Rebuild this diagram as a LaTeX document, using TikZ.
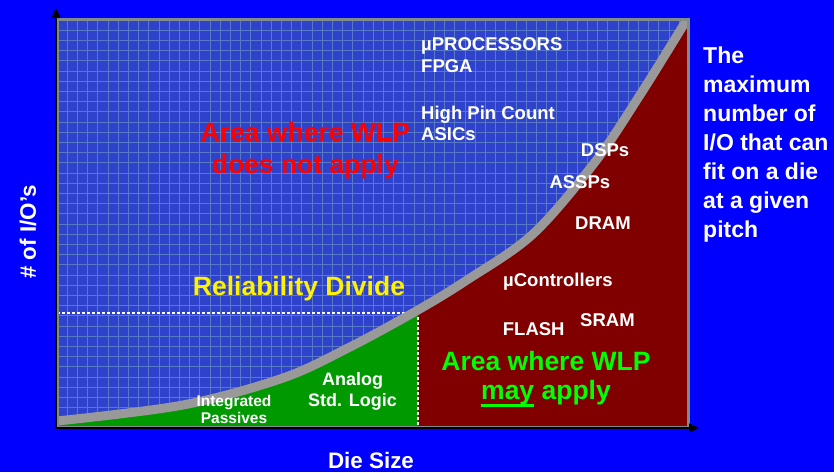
\documentclass[tikz,border=0pt]{standalone}
\usepackage{fontspec}
\setmainfont{Liberation Sans}
\usetikzlibrary{arrows.meta}
\definecolor{slideblue}{RGB}{0,0,255}
\definecolor{plotblue}{RGB}{46,66,204}
\definecolor{gridblue}{RGB}{88,120,200}
\definecolor{wlpred}{RGB}{128,0,0}
\definecolor{wlpgreen}{RGB}{0,153,0}
\definecolor{bandgray}{RGB}{153,153,153}
\definecolor{framegray}{RGB}{128,140,140}
\newcommand\pitchcurve{plot[smooth,tension=.55] coordinates {(57,51) (183,67) (283,94) (350,125) (418,162) (467,192) (533,238) (595,310) (640,377) (686,451) (697,469)}}
\newcommand\thickul[1]{\setbox0\hbox{#1}\copy0\llap{\rule[-7.5pt]{\wd0}{3pt}}}

\begin{document}
\begin{tikzpicture}[x=1pt,y=1pt,line width=.4pt,
 tag/.style={text=white,inner sep=0pt,anchor=base west,font=\bfseries\fontsize{18.5}{22}\selectfont},
 zone/.style={inner sep=0pt,anchor=base,font=\bfseries\fontsize{26.5}{31}\selectfont},
 axisline/.style={line width=1.5pt,-{Triangle[length=10pt,width=9pt]}}]
\fill[slideblue] (0,0) rectangle (834,472);
\useasboundingbox (0,0) rectangle (834,472);
\coordinate (O) at (56,44);\coordinate (ytip) at (56,464);\coordinate (xtip) at (699,44);
\coordinate (SW) at (57,45);\coordinate (NE) at (688,452);\coordinate (D) at (418,159);
\fill[plotblue] (SW) rectangle (NE);
\draw[gridblue,line width=.7pt,shift={(57,452)},step=10.2] (0,-407) grid (631,0);
\begin{scope}
\clip (SW) rectangle (NE);
\fill[wlpred] \pitchcurve -- (697,45) -- (57,45) -- cycle;
\begin{scope}
\clip (SW) rectangle (D|-NE);
\fill[wlpgreen] \pitchcurve -- (697,45) -- (57,45) -- cycle;
\end{scope}
\draw[white,line width=2.5pt,dash pattern=on 2.5pt off 2.5pt] (SW|-D) -- (D) -- (D|-SW);
\draw[bandgray,line width=9pt] \pitchcurve;
\end{scope}
\draw[framegray,line width=3pt] (SW) rectangle (NE);
\draw[axisline] (O) -- (ytip);\draw[axisline] (O) -- (xtip);
\node[tag] (cpu) at (421,421.3) {µPROCESSORS};\node[tag] (fpga) at (421,399.3) {FPGA};
\node[tag] (hpc) at (421,352.7) {High Pin Count};\node[tag] (asic) at (421,331) {ASICs};
\node[tag] (dsp) at (580.7,315.3) {DSPs};\node[tag] (assp) at (549.3,283.7) {ASSPs};
\node[tag] (dram) at (575,243) {DRAM};\node[tag] (mcu) at (503,186) {µControllers};
\node[tag] (flash) at (502.7,137) {FLASH};\node[tag] (sram) at (580,145.3) {SRAM};
\node[tag,anchor=base,font=\bfseries\fontsize{18}{22}\selectfont] (analog) at (352.5,87) {Analog};
\node[tag,anchor=base,font=\bfseries\fontsize{18}{22}\selectfont] (logic) at (352.5,66) {Std. Logic};
\node[tag,anchor=base,font=\bfseries\fontsize{15.5}{18}\selectfont] (ipd) at (234,65.3) {Integrated};
\node[tag,anchor=base,font=\bfseries\fontsize{15.5}{18}\selectfont] (passive) at (234,48.7) {Passives};
\node[zone,text=red] (nowlp) at (305.3,330.3) {Area where WLP};
\node[zone,text=red] (nowlp2) at (305.3,298.7) {does not apply};
\node[zone,text=yellow] (divide) at (299,177) {Reliability Divide};
\node[zone,text=green] (maywlp) at (546,102) {Area where WLP};
\node[zone,text=green] (maywlp2) at (546,72.5) {\thickul{may} apply};
\node[tag,anchor=base,font=\bfseries\fontsize{22.4}{26}\selectfont] (xlabel) at (371,4) {Die Size};
\node[tag,anchor=center,rotate=90,font=\bfseries\fontsize{22.4}{26}\selectfont] (ylabel) at (28,240) {\# of I/O's};
\node[tag,anchor=north west,align=left,font=\bfseries\fontsize{23}{29}\selectfont] (note) at (703,425.5) {The\\maximum\\number of\\I/O that can\\fit on a die\\at a given\\pitch};
\end{tikzpicture}
\end{document}
